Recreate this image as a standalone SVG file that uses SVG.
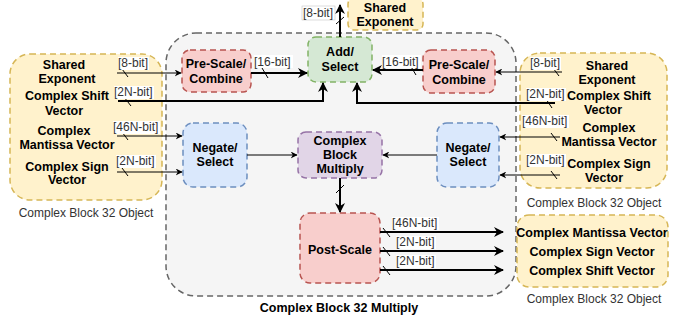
<svg xmlns="http://www.w3.org/2000/svg" width="694" height="322" viewBox="0 0 694 322">
<defs>
<marker id="ah" viewBox="0 0 10 10" refX="9" refY="5" markerWidth="7" markerHeight="7" markerUnits="userSpaceOnUse" orient="auto"><path d="M0,0 L10,5 L0,10 L3,5 z" fill="#000"/></marker>
<marker id="ahb" viewBox="0 0 10 10" refX="9" refY="5" markerWidth="10" markerHeight="10" markerUnits="userSpaceOnUse" orient="auto"><path d="M0,0 L10,5 L0,10 L3,5 z" fill="#000"/></marker>
</defs>
<style>
.n{stroke-width:1.5;stroke-dasharray:6 4}
.y{fill:#fff2cc;stroke:#d6b656}
.r{fill:#f8cecc;stroke:#b85450}
.g{fill:#d5e8d4;stroke:#82b366}
.b{fill:#dae8fc;stroke:#6c8ebf}
.p{fill:#e1d5e7;stroke:#9673a6}
.c{fill:#f5f5f5;stroke:#666666}
text{font-family:"Liberation Sans",Arial,sans-serif}
.t{font-size:12.5px;font-weight:bold;fill:#000;text-anchor:middle;dominant-baseline:central}
.l{font-size:12px;fill:#333;dominant-baseline:central}
.o{font-size:12px;fill:#333;text-anchor:middle;dominant-baseline:central}
.w{stroke:#000;fill:none;stroke-width:1}
.k{stroke:#000;fill:none;stroke-width:2}
.lb{fill:#fff}
</style>
<g id="container">
<rect class="n c" x="166" y="33" width="350" height="263" rx="30"/>
<text class="t" x="339" y="308">Complex Block 32 Multiply</text>
</g>
<g id="left-object">
<rect class="n y" x="10" y="54" width="152" height="146" rx="20"/>
<text class="t" x="64" y="65">Shared</text>
<text class="t" x="67" y="79">Exponent</text>
<text class="t" x="67" y="96">Complex Shift</text>
<text class="t" x="64" y="111">Vector</text>
<text class="t" x="64" y="131">Complex</text>
<text class="t" x="67" y="145">Mantissa Vector</text>
<text class="t" x="67" y="167">Complex Sign</text>
<text class="t" x="67" y="180">Vector</text>
<text class="o" x="86" y="213">Complex Block 32 Object</text>
</g>
<g id="right-object">
<rect class="n y" x="520" y="53" width="147" height="135" rx="20"/>
<text class="t" x="607" y="66">Shared</text>
<text class="t" x="607" y="80">Exponent</text>
<text class="t" x="609" y="96">Complex Shift</text>
<text class="t" x="603" y="110">Vector</text>
<text class="t" x="609" y="128">Complex</text>
<text class="t" x="609" y="142">Mantissa Vector</text>
<text class="t" x="609" y="164">Complex Sign</text>
<text class="t" x="604" y="178">Vector</text>
<text class="o" x="594" y="203">Complex Block 32 Object</text>
</g>
<g id="output-object">
<rect class="n y" x="517" y="215" width="151" height="72" rx="12"/>
<text class="t" x="592" y="233">Complex Mantissa Vector</text>
<text class="t" x="592" y="252">Complex Sign Vector</text>
<text class="t" x="592" y="271">Complex Shift Vector</text>
<text class="o" x="594" y="299">Complex Block 32 Object</text>
</g>
<g id="shared-exponent-out">
<rect class="n y" x="348" y="-2" width="75" height="32" rx="6"/>
<text class="t" x="385" y="8">Shared</text>
<text class="t" x="385" y="22">Exponent</text>
</g>
<g id="prescale-left">
<rect class="n r" x="182" y="50" width="69" height="42" rx="8"/>
<text class="t" x="216" y="64">Pre-Scale/</text>
<text class="t" x="216" y="79">Combine</text>
</g>
<g id="add-select">
<rect class="n g" x="308" y="37" width="64" height="45" rx="8"/>
<text class="t" x="340" y="52">Add/</text>
<text class="t" x="340" y="67">Select</text>
</g>
<g id="prescale-right">
<rect class="n r" x="423" y="50" width="72" height="43" rx="8"/>
<text class="t" x="459" y="65">Pre-Scale/</text>
<text class="t" x="459" y="80">Combine</text>
</g>
<g id="negate-left">
<rect class="n b" x="183" y="123" width="64" height="64" rx="10"/>
<text class="t" x="215" y="148">Negate/</text>
<text class="t" x="215" y="162">Select</text>
</g>
<g id="complex-block-multiply">
<rect class="n p" x="298" y="132" width="84" height="46" rx="8"/>
<text class="t" x="340" y="141">Complex</text>
<text class="t" x="340" y="155">Block</text>
<text class="t" x="340" y="169">Multiply</text>
</g>
<g id="negate-right">
<rect class="n b" x="437" y="123" width="62" height="64" rx="10"/>
<text class="t" x="468" y="148">Negate/</text>
<text class="t" x="468" y="162">Select</text>
</g>
<g id="post-scale">
<rect class="n r" x="300" y="213" width="80" height="70" rx="10"/>
<text class="t" x="340" y="250">Post-Scale</text>
</g>
<g id="connectors">
<path class="w" d="M117,73 L181,73" marker-end="url(#ah)"/>
<path class="w" d="M122,69 L128,77"/>
<rect class="lb" x="118" y="57" width="31" height="13"/>
<text class="l" x="118" y="63">[8-bit]</text>
<path class="k" d="M118,101 L323,101 L323,83" marker-end="url(#ahb)"/>
<path class="w" d="M124,97 L131,106"/>
<rect class="lb" x="114" y="86" width="40" height="13"/>
<text class="l" x="114" y="92">[2N-bit]</text>
<path class="w" d="M117,136 L182,136" marker-end="url(#ah)"/>
<path class="w" d="M122,132 L128,140"/>
<rect class="lb" x="113" y="121" width="47" height="13"/>
<text class="l" x="113" y="127">[46N-bit]</text>
<path class="w" d="M117,172 L182,172" marker-end="url(#ah)"/>
<path class="w" d="M122,168 L128,176"/>
<rect class="lb" x="116" y="155" width="40" height="13"/>
<text class="l" x="116" y="161">[2N-bit]</text>
<path class="w" d="M562,72 L496,72" marker-end="url(#ah)"/>
<path class="w" d="M553,68 L559,76"/>
<rect class="lb" x="530" y="57" width="31" height="13"/>
<text class="l" x="530" y="63">[8-bit]</text>
<path class="k" d="M555,103 L357,103 L357,83" marker-end="url(#ahb)"/>
<path class="w" d="M546,99 L552,108"/>
<rect class="lb" x="526" y="88" width="40" height="13"/>
<text class="l" x="526" y="94">[2N-bit]</text>
<path class="w" d="M560,137 L500,137" marker-end="url(#ah)"/>
<path class="w" d="M551,133 L557,141"/>
<rect class="lb" x="522" y="115" width="47" height="13"/>
<text class="l" x="522" y="121">[46N-bit]</text>
<path class="w" d="M560,175 L500,175" marker-end="url(#ah)"/>
<path class="w" d="M551,171 L557,179"/>
<rect class="lb" x="526" y="154" width="40" height="13"/>
<text class="l" x="526" y="160">[2N-bit]</text>
<path class="k" d="M251,73 L307,73" marker-end="url(#ahb)"/>
<path class="w" d="M262,68 L268,78"/>
<rect class="lb" x="254" y="55" width="39" height="13"/>
<text class="l" x="254" y="62">[16-bit]</text>
<path class="k" d="M423,70 L373,70" marker-end="url(#ahb)"/>
<path class="w" d="M410,65 L416,75"/>
<rect class="lb" x="382" y="55" width="39" height="13"/>
<text class="l" x="382" y="62">[16-bit]</text>
<path class="k" d="M340,37 L340,5" marker-end="url(#ahb)"/>
<path class="w" d="M336,24 L344,17"/>
<rect class="lb" x="302" y="6" width="33" height="14" stroke="#bbb" stroke-width="0.5"/>
<text class="l" x="303" y="13">[8-bit]</text>
<path class="w" d="M247,155 L297,155" marker-end="url(#ah)"/>
<path class="w" d="M437,155 L383,155" marker-end="url(#ah)"/>
<path class="k" d="M340,178 L340,212" marker-end="url(#ahb)"/>
<path class="w" d="M336,193 L344,185"/>
<path class="k" d="M380,232 L503,232" marker-end="url(#ahb)"/>
<path class="w" d="M383,228 L390,237"/>
<rect class="lb" x="392" y="217" width="47" height="13"/>
<text class="l" x="392" y="223">[46N-bit]</text>
<path class="k" d="M380,251 L503,251" marker-end="url(#ahb)"/>
<path class="w" d="M383,247 L390,256"/>
<rect class="lb" x="396" y="236" width="40" height="13"/>
<text class="l" x="396" y="242">[2N-bit]</text>
<path class="k" d="M380,270 L503,270" marker-end="url(#ahb)"/>
<path class="w" d="M383,266 L390,275"/>
<rect class="lb" x="396" y="255" width="40" height="13"/>
<text class="l" x="396" y="261">[2N-bit]</text>
</g>
</svg>
